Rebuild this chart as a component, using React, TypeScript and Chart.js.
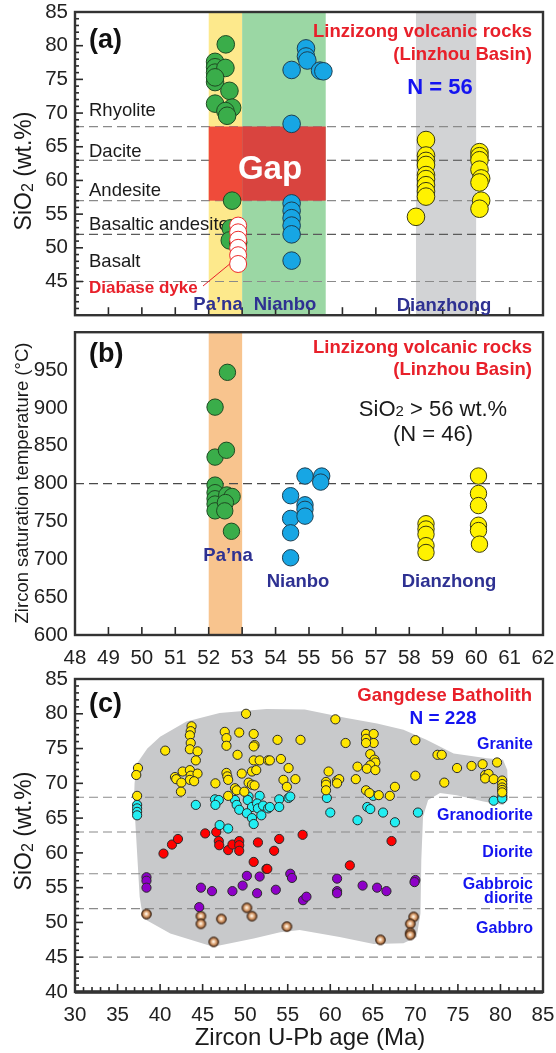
import React, { useEffect, useRef } from 'react';
import { Chart, registerables } from 'chart.js';
Chart.register(...registerables);

const FONT = '"Liberation Sans", Arial, Helvetica, sans-serif';

// ---------------- Panel (a): SiO2 vs zircon age (Linzizong) ----------------
const aPanaAge = [52.51, 52.19, 52.19, 52.19, 52.19, 52.5, 52.19, 52.62, 52.19, 52.7, 52.5, 52.55, 52.7, 52.66, 52.63, 52.88];
const aPanaSiO2 = [80.2, 77.6, 76.8, 76.0, 74.6, 76.7, 75.3, 73.3, 71.4, 70.8, 70.3, 69.6, 57.0, 52.9, 51.1, 50.8];
const aDykeAge = [52.88, 52.88, 52.88, 52.88, 52.88, 52.88];
const aDykeSiO2 = [53.3, 52.3, 51.2, 50.0, 48.9, 47.6];
const aNianboAge = [54.91, 54.91, 54.95, 54.48, 55.33, 55.43, 54.48, 54.48, 54.48, 54.48, 54.48, 54.48, 54.48];
const aNianboSiO2 = [79.6, 78.4, 77.8, 76.4, 76.3, 76.2, 68.4, 56.6, 55.5, 54.4, 53.3, 52.0, 48.1];
const aDianAge = [58.5, 58.5, 58.5, 58.5, 58.5, 58.5, 58.5, 58.5, 58.5, 58.2, 60.1, 60.1, 60.1, 60.1, 60.15, 60.1, 60.15, 60.1];
const aDianSiO2 = [66.0, 63.7, 62.9, 62.3, 60.8, 60.2, 59.3, 58.4, 57.6, 54.6, 64.2, 63.6, 63.0, 61.6, 60.3, 59.7, 57.0, 55.8];

const aBandStart = [52, 53, 58.2];
const aBandEnd = [53, 55.5, 60];
const gapAge = [52, 53, 55.5];
const gapSiO2 = [57, 68];
const volcanicBoundaries = [68, 63, 57, 52, 45];
const volcanicNames = ['Rhyolite', 'Dacite', 'Andesite', 'Basaltic andesite', 'Basalt'];

// ---------------- Panel (b): zircon saturation temperature ----------------
const bPanaAge = [52.56, 52.19, 52.19, 52.53, 52.19, 52.19, 52.19, 52.19, 52.19, 52.54, 52.7, 52.5, 52.48, 52.68];
const bPanaT = [947, 901, 835, 844, 798, 788, 780, 773, 764, 785, 783, 775, 764, 737];
const bNianboAge = [54.45, 54.45, 54.45, 54.45, 54.88, 55.38, 55.35, 54.88, 54.88, 54.88];
const bNianboT = [784, 754, 735, 702, 810, 810, 802, 772, 766, 757];
const bDianAge = [58.5, 58.5, 58.5, 58.5, 58.5, 60.07, 60.07, 60.07, 60.07, 60.07, 60.1];
const bDianT = [747, 740, 733, 718, 709, 810, 787, 771, 745, 738, 720];
const bBandStart = [52];
const bBandEnd = [53];
const tempReference = [800];

// ---------------- Panel (c): Gangdese Batholith ----------------
const cGraniteAge = [50.1, 43.7, 43.6, 43.5, 43.6, 43.5, 44.4, 44.2, 40.6, 47.6, 47.8, 47.8, 49.3, 51.0, 51.1, 51.0, 49.1, 51.0, 51.7, 52.7,
  37.4, 37.2, 37.3, 41.75, 41.9, 42.65, 43.5, 43.6, 44.4, 43.5, 44.0, 42.5, 42.45, 46.5, 47.8, 47.9, 48.0, 49.6, 50.8, 51.3,
  50.4, 50.8, 51.1, 48.8, 49.0, 49.9, 48.0,
  60.6, 53.8, 56.5, 61.8, 64.2, 65.1, 64.2, 65.1, 64.2, 64.7, 65.2, 65.3, 64.7, 64.3, 65.3, 63.2, 52.9, 54.2, 55.1, 54.5,
  54.9, 55.9, 59.8, 59.5, 59.5, 59.5, 60.8, 61.05, 60.8, 63.0, 64.2, 64.6, 65.7, 67.0, 67.6,
  70.0, 72.6, 73.1, 70.0, 73.4, 74.9, 76.6, 77.9, 79.6, 78.2, 78.6, 78.2, 79.2, 80.2, 80.2, 80.2, 80.2, 80.2];
const cGraniteSiO2 = [80.0, 78.2, 77.5, 76.9, 75.8, 74.9, 74.6, 73.3, 74.7, 77.4, 76.5, 75.4, 77.3, 77.1, 75.5, 75.3, 74.1, 73.3, 73.3, 73.3,
  72.2, 71.2, 68.2, 70.9, 70.6, 71.7, 71.9, 71.1, 71.4, 70.5, 70.3, 70.1, 68.8, 70.0, 71.5, 71.0, 70.5, 71.4, 71.7, 71.9,
  70.1, 69.8, 69.7, 69.3, 69.0, 68.8, 68.2,
  79.2, 76.25, 76.25, 75.8, 77.1, 77.1, 76.4, 75.8, 75.8, 74.2, 73.4, 73.0, 72.6, 72.1, 71.9, 72.4, 73.3, 73.5, 72.2, 70.5,
  69.5, 70.6, 71.7, 70.2, 69.8, 69.0, 70.4, 70.6, 70.0, 70.6, 69.0, 68.6, 68.3, 68.2, 69.5,
  76.2, 74.1, 74.1, 71.1, 70.1, 72.2, 72.5, 72.75, 73.0, 71.2, 71.35, 70.7, 70.6, 70.4, 69.9, 69.4, 69.05, 68.7];
const cGranodioriteAge = [37.3, 37.3, 37.3, 37.3, 44.2, 46.45, 46.9, 46.5, 47.0, 48.0, 48.8, 49.0, 49.3, 50.4, 50.3, 50.8, 51.7, 51.4, 51.5, 52.1,
  52.7, 51.9, 50.2, 50.8, 51.0, 52.9, 54.0, 54.0, 55.1, 55.3, 59.6, 60.0, 63.2, 64.35, 64.7, 65.05, 66.2, 67.6, 79.2, 80.2, 80.2, 70.3];
const cGranodioriteSiO2 = [66.9, 66.4, 65.9, 65.4, 66.9, 67.7, 67.6, 66.9, 64.0, 63.5, 67.6, 66.9, 66.2, 68.1, 67.6, 66.6, 68.2, 67.1, 66.4, 66.8,
  66.4, 65.4, 65.7, 65.0, 64.15, 66.6, 67.7, 66.6, 67.9, 68.1, 67.9, 65.8, 64.7, 66.6, 66.3, 68.2, 65.8, 64.4, 67.5, 68.1, 67.8, 65.8];
const cDioriteAge = [40.4, 41.4, 42.1, 45.3, 46.6, 46.9, 46.95, 48.0, 48.5, 49.3, 49.3, 49.3, 51.5, 54.0, 53.4, 51.0, 52.5, 52.6, 56.75, 67.2, 62.3];
const cDioriteSiO2 = [59.9, 61.2, 62.0, 62.8, 63.0, 61.7, 61.1, 60.4, 61.2, 61.7, 61.1, 60.3, 61.5, 62.0, 60.3, 58.7, 57.7, 57.7, 62.6, 61.7, 58.2];
const cGabbroicAge = [38.4, 38.4, 38.4, 44.8, 46.1, 44.6, 48.5, 49.7, 50.2, 51.7, 51.4, 53.6, 55.3, 55.5, 60.8, 60.8, 60.8, 63.8, 65.5, 66.6, 70.0, 69.9, 56.8, 57.2];
const cGabbroicSiO2 = [56.5, 56.0, 55.0, 55.0, 54.5, 52.2, 54.5, 55.3, 56.7, 56.6, 54.2, 54.7, 57.0, 56.4, 56.3, 54.5, 54.2, 55.3, 55.0, 54.5, 56.1, 55.8, 53.2, 53.7];
const cGabbroAge = [38.4, 44.8, 44.8, 46.3, 47.2, 50.2, 50.8, 54.9, 65.9, 69.8, 69.4, 69.4, 69.4];
const cGabbroSiO2 = [51.2, 50.9, 49.8, 47.2, 50.5, 52.1, 50.9, 49.4, 47.5, 50.8, 49.8, 48.5, 48.2];

const cFieldAge = [36.85, 37.0, 37.3, 38.5, 40.0, 43.1, 47.0, 52.5, 57.0, 61.9, 65.5, 68.6, 71.3, 74.5, 78.4, 80.3, 80.8, 80.9, 80.3, 78.0,
  74.85, 72.9, 71.5, 70.9, 70.7, 70.6, 70.15, 68.6, 65.1, 61.1, 56.4, 54.1, 51.0, 46.25, 41.2, 38.0, 37.6, 37.05];
const cFieldSiO2 = [64.7, 70.0, 72.9, 75.0, 76.7, 78.9, 80.1, 80.7, 80.6, 79.4, 78.6, 77.7, 76.25, 74.3, 73.6, 73.4, 71.9, 67.6, 66.9, 67.4,
  68.3, 68.6, 67.6, 65.2, 59.0, 51.3, 47.9, 47.0, 46.9, 47.9, 48.9, 48.6, 47.7, 46.5, 48.4, 50.6, 53.7, 65.2];
const plutonicBoundaries = [68, 63, 57, 52, 45];

// ---------------- helpers ----------------
const pts = (xs: number[], ys: number[]) => xs.map((x, i) => ({ x, y: ys[i] }));

type Seg = { t: string; size: number; bold?: boolean; dy?: number };
function rich(ctx: CanvasRenderingContext2D, segs: Seg[], x: number, y: number, align: 'left' | 'center' | 'right', color: string, rotate = false) {
  ctx.save();
  ctx.fillStyle = color;
  ctx.textBaseline = 'middle';
  ctx.textAlign = 'left';
  const fontOf = (s: Seg) => `${s.bold ? 'bold ' : ''}${s.size}px ${FONT}`;
  let total = 0;
  const widths = segs.map((s) => { ctx.font = fontOf(s); const w = ctx.measureText(s.t).width; total += w; return w; });
  ctx.translate(x, y);
  if (rotate) ctx.rotate(-Math.PI / 2);
  let cx = align === 'left' ? 0 : align === 'center' ? -total / 2 : -total;
  segs.forEach((s, i) => { ctx.font = fontOf(s); ctx.fillText(s.t, cx, s.dy || 0); cx += widths[i]; });
  ctx.restore();
}
function txt(ctx: CanvasRenderingContext2D, t: string, x: number, y: number, size: number, color: string, align: 'left' | 'center' | 'right' = 'left', bold = false) {
  rich(ctx, [{ t, size, bold }], x, y, align, color);
}
function dashed(ctx: CanvasRenderingContext2D, ca: any, py: number, color: string) {
  ctx.save();
  ctx.strokeStyle = color;
  ctx.lineWidth = 1.2;
  ctx.setLineDash([9, 5]);
  ctx.beginPath();
  ctx.moveTo(ca.left, py);
  ctx.lineTo(ca.right, py);
  ctx.stroke();
  ctx.restore();
}
function frameTicks(chart: any, cfg: { xMinor?: number; xMajor?: number; yMinor?: number; yMajor?: number; bottomWidth?: number }) {
  const { ctx, chartArea: ca } = chart;
  const x = chart.scales.x, y = chart.scales.y;
  ctx.save();
  ctx.strokeStyle = '#2a2a2a';
  ctx.setLineDash([]);
  ctx.lineWidth = 1.6;
  if (cfg.xMinor && cfg.xMajor) {
    const n = Math.round((x.max - x.min) / cfg.xMinor);
    for (let i = 0; i <= n; i++) {
      const v = x.min + i * cfg.xMinor;
      const r = v / cfg.xMajor;
      const len = Math.abs(r - Math.round(r)) < 1e-6 ? 8 : 5;
      const px = x.getPixelForValue(v);
      ctx.beginPath(); ctx.moveTo(px, ca.bottom); ctx.lineTo(px, ca.bottom - len); ctx.stroke();
    }
  }
  if (cfg.yMinor && cfg.yMajor) {
    const n = Math.round((y.max - y.min) / cfg.yMinor);
    for (let i = 0; i <= n; i++) {
      const v = y.min + i * cfg.yMinor;
      const r = v / cfg.yMajor;
      const len = Math.abs(r - Math.round(r)) < 1e-6 ? 8 : 4;
      const py = y.getPixelForValue(v);
      ctx.beginPath(); ctx.moveTo(ca.left, py); ctx.lineTo(ca.left + len, py); ctx.stroke();
    }
  }
  ctx.lineWidth = 2.4;
  ctx.strokeStyle = '#333';
  ctx.strokeRect(ca.left, ca.top, ca.width, ca.height);
  if (cfg.bottomWidth) {
    ctx.lineWidth = cfg.bottomWidth;
    ctx.beginPath(); ctx.moveTo(ca.left, ca.bottom); ctx.lineTo(ca.right, ca.bottom); ctx.stroke();
  }
  ctx.restore();
}

function scalesFor(o: { xmin: number; xmax: number; xstep: number; xShow: boolean; xHeight: number; ymin: number; ymax: number; ystep: number; hideY: number[] }) {
  return {
    x: {
      type: 'linear', min: o.xmin, max: o.xmax, display: o.xShow,
      grid: { display: false, drawTicks: false }, border: { display: false },
      ticks: { stepSize: o.xstep, autoSkip: false, maxRotation: 0, padding: 11, color: '#222', font: { family: FONT, size: 20.5 } },
      afterFit: (s: any) => { s.height = o.xHeight; s.paddingLeft = 0; s.paddingRight = 0; },
    },
    y: {
      type: 'linear', min: o.ymin, max: o.ymax,
      grid: { display: false, drawTicks: false }, border: { display: false },
      ticks: {
        stepSize: o.ystep, autoSkip: false, padding: 7, color: '#222', font: { family: FONT, size: 20.5 },
        callback: (v: any) => (o.hideY.indexOf(Number(v)) >= 0 ? '' : String(v)),
      },
      afterFit: (s: any) => { s.width = 75; s.paddingTop = 0; s.paddingBottom = 0; },
    },
  };
}

const RED = '#e8202a';
const BLUE = '#1414f0';
const NAVY = '#2e3192';
const W = 556;

export default function App() {
  const refA = useRef<HTMLCanvasElement>(null);
  const refB = useRef<HTMLCanvasElement>(null);
  const refC = useRef<HTMLCanvasElement>(null);

  useEffect(() => {
    // sphere marker for gabbro
    const r = 4.8;
    const sphere = document.createElement('canvas');
    const sz = Math.ceil(2 * r + 3);
    sphere.width = sz; sphere.height = sz;
    const sctx = sphere.getContext('2d')!;
    const c0 = sz / 2;
    const g = sctx.createRadialGradient(c0 - 0.3, c0 - 0.3, 0.5, c0, c0, r);
    g.addColorStop(0, '#fff4e6');
    g.addColorStop(0.45, '#e0a878');
    g.addColorStop(1, '#7a4522');
    sctx.fillStyle = g;
    sctx.beginPath(); sctx.arc(c0, c0, r, 0, Math.PI * 2); sctx.fill();
    sctx.strokeStyle = '#2e1a0c'; sctx.lineWidth = 1;
    sctx.stroke();

    const offA = 0, offB = 323, offC = 660;

    const pluginA = {
      id: 'panelA',
      beforeDatasetsDraw(chart: any) {
        const { ctx, chartArea: ca } = chart;
        const x = chart.scales.x, y = chart.scales.y;
        const bandCols = ['#fde98c', '#9bd7a4', '#d2d3d5'];
        aBandStart.forEach((s, i) => {
          ctx.fillStyle = bandCols[i];
          const x0 = x.getPixelForValue(s), x1 = x.getPixelForValue(aBandEnd[i]);
          ctx.fillRect(x0, ca.top, x1 - x0, ca.height);
        });
        const lineCols = ['#8a8a8a', '#4a4a4a', '#8a8a8a', '#5a5a5a', '#8a8a8a'];
        volcanicBoundaries.forEach((b, i) => dashed(ctx, ca, y.getPixelForValue(b), lineCols[i]));
        const gapCols = ['#ef4b3a', '#d9443f'];
        for (let i = 0; i < 2; i++) {
          const x0 = x.getPixelForValue(gapAge[i]), x1 = x.getPixelForValue(gapAge[i + 1]);
          const y0 = y.getPixelForValue(gapSiO2[1]), y1 = y.getPixelForValue(gapSiO2[0]);
          ctx.fillStyle = gapCols[i];
          ctx.fillRect(x0, y0, x1 - x0, y1 - y0);
        }
        txt(ctx, 'Gap', 270, 170 - offA, 33, '#ffffff', 'center', true);
        const nameY = [111, 152, 191, 225, 262];
        volcanicNames.forEach((n, i) => txt(ctx, n, 89, nameY[i] - offA, 18.5, '#1a1a1a'));
        txt(ctx, 'Diabase dyke', 89, 288 - offA, 17, RED, 'left', true);
        ctx.save();
        ctx.strokeStyle = RED; ctx.lineWidth = 1;
        ctx.beginPath(); ctx.moveTo(203, 286 - offA); ctx.lineTo(x.getPixelForValue(52.8), y.getPixelForValue(48.3)); ctx.stroke();
        ctx.restore();
      },
      afterDraw(chart: any) {
        const { ctx } = chart;
        frameTicks(chart, { xMinor: 1, xMajor: 1, yMinor: 1, yMajor: 5 });
        txt(ctx, '(a)', 89, 41 - offA, 27, '#111', 'left', true);
        txt(ctx, 'Linzizong volcanic rocks', 532, 32 - offA, 18.5, RED, 'right', true);
        txt(ctx, '(Linzhou Basin)', 532, 55 - offA, 18.5, RED, 'right', true);
        txt(ctx, 'N = 56', 440, 88 - offA, 22, BLUE, 'center', true);
        txt(ctx, 'Pa’na', 218, 305 - offA, 18.5, NAVY, 'center', true);
        txt(ctx, 'Nianbo', 285, 305 - offA, 18.5, NAVY, 'center', true);
        txt(ctx, 'Dianzhong', 444, 306 - offA, 18.5, NAVY, 'center', true);
        rich(ctx, [{ t: 'SiO', size: 23 }, { t: '2', size: 16, dy: 4 }, { t: ' (wt.%)', size: 23 }], 25, 171 - offA, 'center', '#1a1a1a', true);
      },
    };

    const pluginB = {
      id: 'panelB',
      beforeDatasetsDraw(chart: any) {
        const { ctx, chartArea: ca } = chart;
        const x = chart.scales.x, y = chart.scales.y;
        bBandStart.forEach((s, i) => {
          ctx.fillStyle = '#f8c48e';
          const x0 = x.getPixelForValue(s), x1 = x.getPixelForValue(bBandEnd[i]);
          ctx.fillRect(x0, ca.top, x1 - x0, ca.height);
        });
        tempReference.forEach((t) => dashed(ctx, ca, y.getPixelForValue(t), '#4a4a4a'));
      },
      afterDraw(chart: any) {
        const { ctx } = chart;
        frameTicks(chart, { xMinor: 1, xMajor: 1 });
        txt(ctx, '(b)', 89, 355 - offB, 27, '#111', 'left', true);
        txt(ctx, 'Linzizong volcanic rocks', 532, 348 - offB, 18.5, RED, 'right', true);
        txt(ctx, '(Linzhou Basin)', 532, 370 - offB, 18.5, RED, 'right', true);
        rich(ctx, [{ t: 'SiO', size: 22 }, { t: '2', size: 15, dy: 2 }, { t: ' > 56 wt.%', size: 22 }], 433, 410 - offB, 'center', '#1a1a1a');
        txt(ctx, '(N = 46)', 433, 435 - offB, 22, '#1a1a1a', 'center');
        txt(ctx, 'Pa’na', 228, 556 - offB, 18.5, NAVY, 'center', true);
        txt(ctx, 'Nianbo', 298, 582 - offB, 18.5, NAVY, 'center', true);
        txt(ctx, 'Dianzhong', 449, 582 - offB, 18.5, NAVY, 'center', true);
        rich(ctx, [{ t: 'Zircon saturation temperature (°C)', size: 18.5 }], 23, 483 - offB, 'center', '#1a1a1a', true);
      },
    };

    const pluginC = {
      id: 'panelC',
      beforeDatasetsDraw(chart: any) {
        const { ctx, chartArea: ca } = chart;
        const x = chart.scales.x, y = chart.scales.y;
        ctx.save();
        ctx.fillStyle = '#c8c9cb';
        ctx.beginPath();
        cFieldAge.forEach((a, i) => {
          const px = x.getPixelForValue(a), py = y.getPixelForValue(cFieldSiO2[i]);
          if (i === 0) ctx.moveTo(px, py); else ctx.lineTo(px, py);
        });
        ctx.closePath();
        ctx.fill();
        ctx.restore();
        plutonicBoundaries.forEach((b) => dashed(ctx, ca, y.getPixelForValue(b), '#8a8a8a'));
        txt(ctx, 'Granite', 533, 745 - offC, 16, BLUE, 'right', true);
        txt(ctx, 'Granodiorite', 533, 816 - offC, 16, BLUE, 'right', true);
        txt(ctx, 'Diorite', 533, 853 - offC, 16, BLUE, 'right', true);
        txt(ctx, 'Gabbroic', 533, 885 - offC, 16, BLUE, 'right', true);
        txt(ctx, 'diorite', 533, 899 - offC, 16, BLUE, 'right', true);
        txt(ctx, 'Gabbro', 533, 929 - offC, 16, BLUE, 'right', true);
      },
      afterDraw(chart: any) {
        const { ctx } = chart;
        frameTicks(chart, { xMinor: 1, xMajor: 5, yMinor: 1, yMajor: 5, bottomWidth: 3.5 });
        txt(ctx, '(c)', 89, 705 - offC, 27, '#111', 'left', true);
        txt(ctx, 'Gangdese Batholith', 532, 696 - offC, 18.5, RED, 'right', true);
        txt(ctx, 'N = 228', 443, 719 - offC, 19, BLUE, 'center', true);
        rich(ctx, [{ t: 'SiO', size: 23 }, { t: '2', size: 16, dy: 4 }, { t: ' (wt.%)', size: 23 }], 25, 831 - offC, 'center', '#1a1a1a', true);
        txt(ctx, 'Zircon U-Pb age (Ma)', 310, 1038 - offC, 24, '#1a1a1a', 'center');
      },
    };

    const big = (data: any[], bg: string, border = '#2a2a2a', radius = 8.8) => ({
      data, backgroundColor: bg, borderColor: border, borderWidth: 1, pointRadius: radius, pointHoverRadius: radius,
    });
    const small = (data: any[], bg: string, radius = 4.6) => ({
      data, backgroundColor: bg, borderColor: '#2a2a2a', borderWidth: 1, pointRadius: radius, pointHoverRadius: radius,
    });

    const common = { responsive: false, animation: false as const, events: [] as any[], plugins: { legend: { display: false }, tooltip: { enabled: false } } };

    const chartA = new Chart(refA.current!, {
      type: 'scatter',
      data: {
        datasets: [
          big(pts(aDykeAge, aDykeSiO2), '#ffffff', '#ee2a2a', 8.5),
          big(pts(aPanaAge, aPanaSiO2), '#3aad4a', '#1f4a22'),
          big(pts(aNianboAge, aNianboSiO2), '#17a6e4', '#1d3f52'),
          big(pts(aDianAge, aDianSiO2), '#fff200', '#3a3a10'),
        ] as any,
      },
      options: {
        ...common,
        layout: { padding: { top: 12, right: W - 543, bottom: 2, left: 0 } },
        scales: scalesFor({ xmin: 48, xmax: 62, xstep: 1, xShow: false, xHeight: 0, ymin: 40, ymax: 85, ystep: 5, hideY: [40] }) as any,
      } as any,
      plugins: [pluginA],
    });

    const chartB = new Chart(refB.current!, {
      type: 'scatter',
      data: {
        datasets: [
          big(pts(bPanaAge, bPanaT), '#3aad4a', '#1f4a22', 8.2),
          big(pts(bNianboAge, bNianboT), '#17a6e4', '#1d3f52', 8.2),
          big(pts(bDianAge, bDianT), '#fff200', '#3a3a10', 8.2),
        ] as any,
      },
      options: {
        ...common,
        layout: { padding: { top: 2, right: W - 543, bottom: 0, left: 0 } },
        scales: scalesFor({ xmin: 48, xmax: 62, xstep: 1, xShow: true, xHeight: 45, ymin: 600, ymax: 1000, ystep: 50, hideY: [1000] }) as any,
      } as any,
      plugins: [pluginB],
    });

    const chartC = new Chart(refC.current!, {
      type: 'scatter',
      data: {
        datasets: [
          small(pts(cGraniteAge, cGraniteSiO2), '#ffe600'),
          small(pts(cGranodioriteAge, cGranodioriteSiO2), '#22eef2'),
          small(pts(cDioriteAge, cDioriteSiO2), '#ff0000'),
          small(pts(cGabbroicAge, cGabbroicSiO2), '#8e00c8'),
          { data: pts(cGabbroAge, cGabbroSiO2), pointStyle: sphere, pointRadius: r, pointHoverRadius: r },
        ] as any,
      },
      options: {
        ...common,
        layout: { padding: { top: 19, right: W - 543, bottom: 0, left: 0 } },
        scales: scalesFor({ xmin: 30, xmax: 85, xstep: 5, xShow: true, xHeight: 61, ymin: 40, ymax: 85, ystep: 5, hideY: [] }) as any,
      } as any,
      plugins: [pluginC],
    });

    return () => { chartA.destroy(); chartB.destroy(); chartC.destroy(); };
  }, []);

  const cs = (top: number): React.CSSProperties => ({ position: 'absolute', left: 0, top });
  return (
    <div style={{ position: 'absolute', left: 0, top: 0, width: W, height: 1053, background: '#fff' }}>
      <canvas ref={refA} width={W} height={325} style={{ ...cs(0), width: W, height: 325 }} />
      <canvas ref={refB} width={W} height={357} style={{ ...cs(323), width: W, height: 357 }} />
      <canvas ref={refC} width={W} height={393} style={{ ...cs(660), width: W, height: 393 }} />
    </div>
  );
}
